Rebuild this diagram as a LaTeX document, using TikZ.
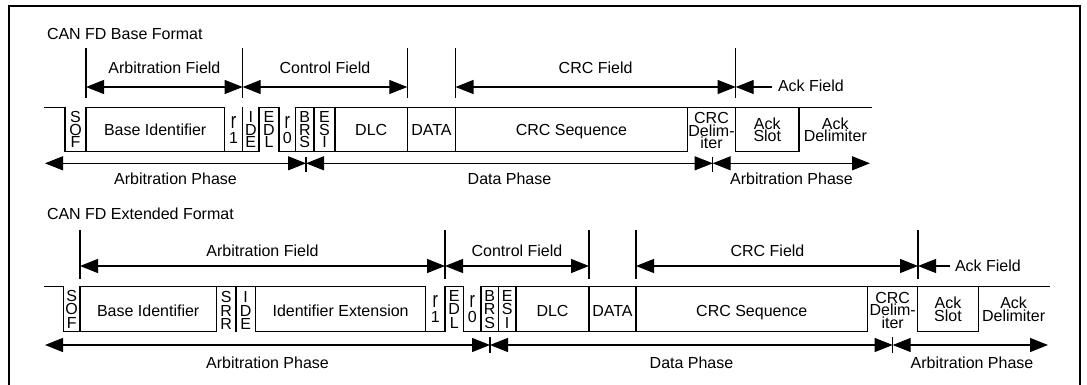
\documentclass[tikz,border=0pt]{standalone}
\usepackage{fontspec}
\setmainfont{Liberation Sans}
\usepackage{graphicx}
\usetikzlibrary{arrows.meta}
\newcommand{\tallr}{\scalebox{1}[1.4]{r}}
\begin{document}
\begin{tikzpicture}[x=1pt,y=-1pt,
  every node/.style={font=\fontsize{16}{12.5}\selectfont, inner sep=0pt, outer sep=0pt},
  >={Triangle[length=18pt,width=14pt]},
  wave/.style={line width=1.1pt, line cap=rect},
  tickline/.style={line width=1.1pt},
  dimline/.style={line width=1.1pt},
  cell/.style={anchor=base},
  vstack/.style={align=center, anchor=center},
  vstackb/.style={align=center, anchor=center, font=\fontsize{16}{13.5}\selectfont},
  frameline/.style={line width=2.5pt}
]
\useasboundingbox (0,0) rectangle (1087,385);
\draw[frameline] (9,385) -- (9,6) -- (1080,6) -- (1080,385);

% ================= BASE FORMAT =================
\node[anchor=base west] (t1) at (47,39.3) {CAN FD Base Format};

% field row
\coordinate (fa1) at (86,87);
\coordinate (fb1) at (242.7,87);
\coordinate (fc1) at (407.3,87);
\coordinate (fd1) at (455.5,87);
\coordinate (fe1) at (735.7,87);
\coordinate (ak1) at (772,87);
\foreach \c in {fa1,fb1,fc1,fd1,fe1}
  \draw[tickline] (\c) ++(0,-39) -- ++(0,50);
\draw[dimline,<->] (fa1) -- (fb1);
\draw[dimline,<->] (fb1) -- (fc1);
\draw[dimline,<->] (fd1) -- (fe1);
\draw[dimline,->] (ak1) -- (fe1);
\node[cell] (af1) at (164.4,74) {Arbitration Field};
\node[cell] (cf1) at (325,74) {Control Field};
\node[cell] (crf1) at (595.6,74) {CRC Field};
\node[anchor=base west] (akf1) at (778,91.7) {Ack Field};

% waveform
\draw[wave] (45,107.7) -- (65,107.7) (86,107.7) -- (224.3,107.7)
  (259,107.7) -- (279,107.7) (295.7,107.7) -- (871.7,107.7);
\draw[wave] (65,151.7) -- (259,151.7) (279,151.7) -- (687.3,151.7)
  (735.7,151.7) -- (799,151.7);
\foreach \x in {65,86,224.3,242.7,259,279,295.7,314,335,407.3,455.5,687.3,735.7,799}
  \draw[wave] (\x,107.7) -- (\x,151.7);

\node[vstack] (sof1) at (75.5,129.7) {S\\O\\F};
\node[cell] (bid1) at (155.2,136) {Base Identifier};
\node[vstack] (r11) at (233.5,129.7) {\tallr\\[2.5pt]1};
\node[vstack] (ide1) at (250.8,129.7) {I\\D\\E};
\node[vstack] (edl1) at (269,129.7) {E\\D\\L};
\node[vstack] (r01) at (287.3,129.7) {\tallr\\[2.5pt]0};
\node[vstack] (brs1) at (304.8,129.7) {B\\R\\S};
\node[vstack] (esi1) at (324.5,129.7) {E\\S\\I};
\node[cell] (dlc1) at (371.2,136) {DLC};
\node[cell] (dat1) at (431.4,136) {DATA};
\node[cell] (crc1) at (571.4,136) {CRC Sequence};
\node[vstack] (crd1) at (711.5,130.5) {CRC\\Delim-\\iter};
\node[vstack] (aks1) at (767.3,129.7) {Ack\\Slot};
\node[vstack] (akd1) at (835.3,129.7) {Ack\\Delimiter};

% phase row
\coordinate (pa1) at (45,163.3);
\coordinate (pb1) at (306,163.3);
\coordinate (pc1) at (712.7,163.3);
\coordinate (pd1) at (870,163.3);
\foreach \c in {pb1,pc1}
  \draw[tickline] (\c) ++(0,-6.6) -- ++(0,15);
\draw[dimline,<->] (pa1) -- (pb1);
\draw[dimline,<->] (pb1) -- (pc1);
\draw[dimline,<->] (pc1) -- (pd1);
\node[cell] (ap1) at (175.5,185) {Arbitration Phase};
\node[cell] (dp1) at (509.5,185) {Data Phase};
\node[cell] (ap1b) at (791.5,185) {Arbitration Phase};

% ================= EXTENDED FORMAT =================
\node[anchor=base west] (t2) at (47,219.3) {CAN FD Extended Format};

\coordinate (fa2) at (80,266);
\coordinate (fb2) at (445,266);
\coordinate (fc2) at (589,266);
\coordinate (fd2) at (636,266);
\coordinate (fe2) at (918,266);
\coordinate (ak2) at (950,266);
\foreach \c in {fa2,fb2,fc2,fd2,fe2}
  \draw[tickline] (\c) ++(0,-36) -- ++(0,49);
\draw[dimline,<->] (fa2) -- (fb2);
\draw[dimline,<->] (fb2) -- (fc2);
\draw[dimline,<->] (fd2) -- (fe2);
\draw[dimline,->] (ak2) -- (fe2);
\node[cell] (af2) at (262.5,256.7) {Arbitration Field};
\node[cell] (cf2) at (517,256.7) {Control Field};
\node[cell] (crf2) at (767.5,256.7) {CRC Field};
\node[anchor=base west] (akf2) at (955,271.7) {Ack Field};

\draw[wave] (45,286.7) -- (63.3,286.7) (80,286.7) -- (425.7,286.7)
  (445,286.7) -- (463.3,286.7) (481,286.7) -- (1049,286.7);
\draw[wave] (63.3,331.7) -- (216.5,331.7) (255.5,331.7) -- (445,331.7)
  (463.3,331.7) -- (867.7,331.7) (917.8,331.7) -- (978.3,331.7);
\foreach \x in {63.3,80,216.5,236,255.5,425.7,445,463.3,481,498.3,516,589,636,867.7,917.8,978.3}
  \draw[wave] (\x,286.7) -- (\x,331.7);

\node[vstackb] (sof2) at (71.7,309.2) {S\\O\\F};
\node[cell] (bid2) at (148.2,316) {Base Identifier};
\node[vstackb] (srr2) at (226.2,310.5) {S\\R\\R};
\node[vstackb] (ide2) at (245.7,310.5) {I\\D\\E};
\node[cell] (iex2) at (340.6,316) {Identifier Extension};
\node[vstack] (r12) at (435.3,309.2) {\tallr\\[2.5pt]1};
\node[vstackb] (edl2) at (454.2,309.2) {E\\D\\L};
\node[vstack] (r02) at (472.2,309.2) {\tallr\\[2.5pt]0};
\node[vstackb] (brs2) at (489.7,309.2) {B\\R\\S};
\node[vstackb] (esi2) at (507.2,309.2) {E\\S\\I};
\node[cell] (dlc2) at (552.5,316) {DLC};
\node[cell] (dat2) at (612.5,316) {DATA};
\node[cell] (crc2) at (751.8,316) {CRC Sequence};
\node[vstack] (crd2) at (892.7,310) {CRC\\Delim-\\iter};
\node[vstack] (aks2) at (948,309.2) {Ack\\Slot};
\node[vstack] (akd2) at (1013.6,309.2) {Ack\\Delimiter};

\coordinate (pa2) at (45,345);
\coordinate (pb2) at (490,345);
\coordinate (pc2) at (892.7,345);
\coordinate (pd2) at (1048,345);
\foreach \c in {pb2,pc2}
  \draw[tickline] (\c) ++(0,-8) -- ++(0,16);
\draw[dimline,<->] (pa2) -- (pb2);
\draw[dimline,<->] (pb2) -- (pc2);
\draw[dimline,<->] (pc2) -- (pd2);
\node[cell] (ap2) at (267.5,368.3) {Arbitration Phase};
\node[cell] (dp2) at (691.5,368.3) {Data Phase};
\node[cell] (ap2b) at (972,368.3) {Arbitration Phase};
\end{tikzpicture}
\end{document}
